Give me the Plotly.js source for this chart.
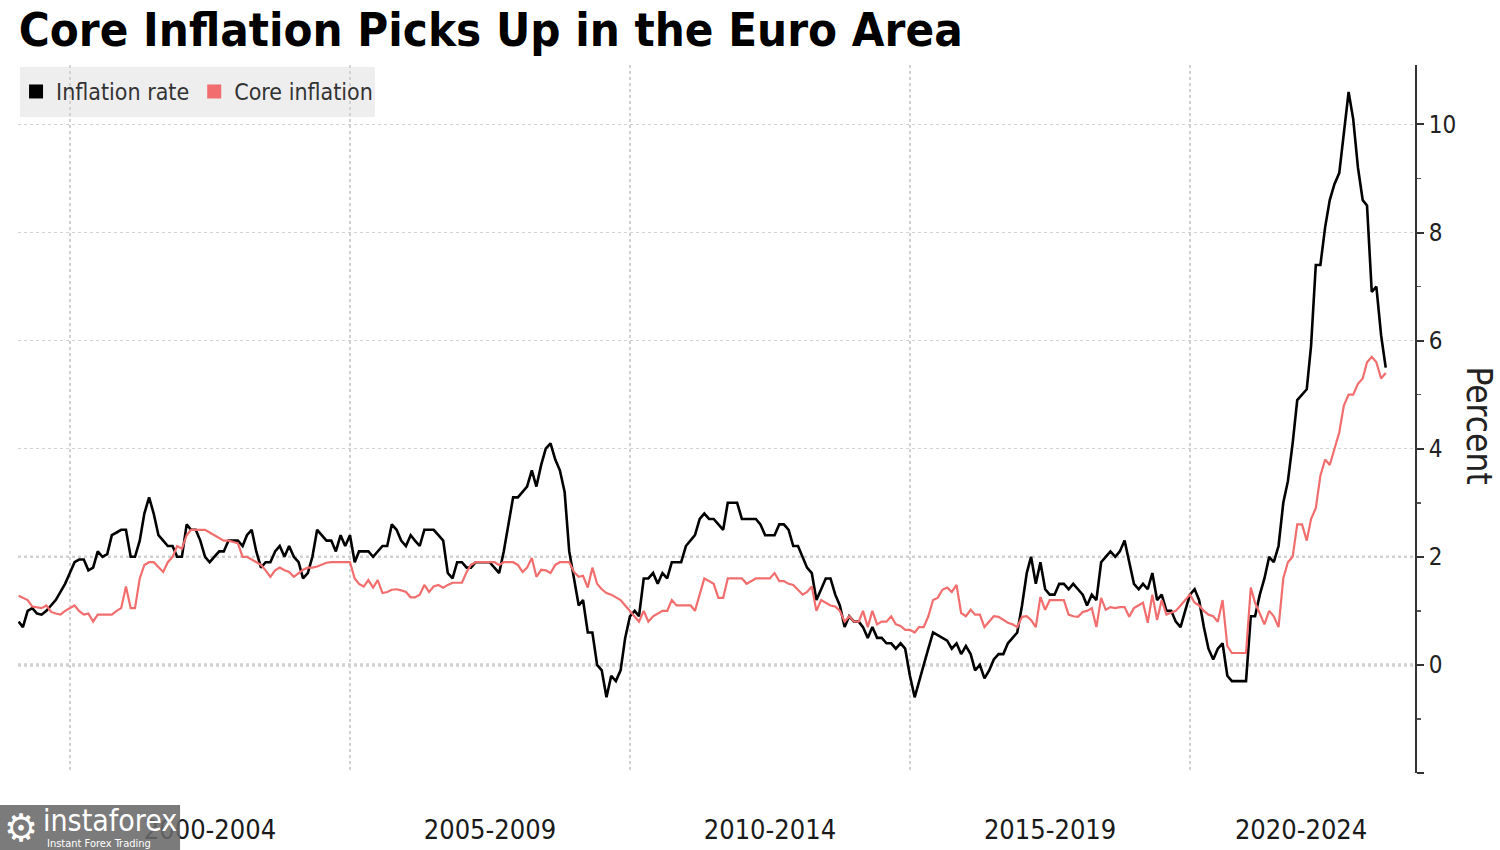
<!DOCTYPE html>
<html>
<head>
<meta charset="utf-8">
<script src="https://cdn.plot.ly/plotly-3.0.1.min.js"></script>
<style>
  html, body { margin: 0; padding: 0; background: #ffffff; }
  #chart { width: 1500px; height: 850px; }
</style>
</head>
<body>
<div id="chart"></div>
<script>
// ---------------- DATA ----------------
const startYear = 1999;          // first month: January 1999 (monthly, plotted at month end)
const seriesNames = ["Inflation rate", "Core inflation"];
const periodLabels = ["2000-2004", "2005-2009", "2010-2014", "2015-2019", "2020-2024"];
const periodLabelDates = ["2002-07-02", "2007-07-02", "2012-07-01", "2017-07-02", "2021-12-25"];
const yTickValues = [-2, 0, 2, 4, 6, 8, 10];
const yTickLabels = ["", "0", "2", "4", "6", "8", "10"];

// Headline inflation rate, % y/y, Jan 1999 .. Jun 2023
const inflationRate = [
  0.8, 0.7, 1.0, 1.05, 0.95, 0.93, 1.0, 1.1, 1.2, 1.35, 1.5, 1.7,      // 1999
  1.9, 1.95, 1.95, 1.75, 1.8, 2.1, 2.0, 2.05, 2.4, 2.45, 2.5, 2.5,     // 2000
  2.0, 2.0, 2.3, 2.8, 3.1, 2.8, 2.4, 2.3, 2.2, 2.2, 2.0, 2.0,          // 2001
  2.6, 2.5, 2.5, 2.3, 2.0, 1.9, 2.0, 2.1, 2.1, 2.3, 2.3, 2.3,          // 2002
  2.2, 2.4, 2.5, 2.1, 1.8, 1.9, 1.9, 2.1, 2.2, 2.0, 2.2, 2.0,          // 2003
  1.9, 1.6, 1.7, 2.0, 2.5, 2.4, 2.3, 2.3, 2.1, 2.4, 2.2, 2.4,          // 2004
  1.9, 2.1, 2.1, 2.1, 2.0, 2.1, 2.2, 2.2, 2.6, 2.5, 2.3, 2.2,          // 2005
  2.4, 2.3, 2.2, 2.5, 2.5, 2.5, 2.4, 2.3, 1.7, 1.6, 1.9, 1.9,          // 2006
  1.8, 1.8, 1.9, 1.9, 1.9, 1.9, 1.8, 1.7, 2.1, 2.6, 3.1, 3.1,          // 2007
  3.2, 3.3, 3.6, 3.3, 3.7, 4.0, 4.1, 3.8, 3.6, 3.2, 2.1, 1.6,          // 2008
  1.1, 1.2, 0.6, 0.6, 0.0, -0.1, -0.6, -0.2, -0.3, -0.1, 0.5, 0.9,     // 2009
  1.0, 0.9, 1.6, 1.6, 1.7, 1.5, 1.7, 1.6, 1.9, 1.9, 1.9, 2.2,          // 2010
  2.3, 2.4, 2.7, 2.8, 2.7, 2.7, 2.6, 2.5, 3.0, 3.0, 3.0, 2.7,          // 2011
  2.7, 2.7, 2.7, 2.6, 2.4, 2.4, 2.4, 2.6, 2.6, 2.5, 2.2, 2.2,          // 2012
  2.0, 1.8, 1.7, 1.2, 1.4, 1.6, 1.6, 1.3, 1.1, 0.7, 0.9, 0.8,          // 2013
  0.8, 0.7, 0.5, 0.7, 0.5, 0.5, 0.4, 0.4, 0.3, 0.4, 0.3, -0.2,         // 2014
  -0.6, -0.3, 0.0, 0.3, 0.6, 0.55, 0.5, 0.45, 0.3, 0.4, 0.2, 0.35,     // 2015
  0.2, -0.1, 0.0, -0.25, -0.1, 0.1, 0.2, 0.2, 0.4, 0.5, 0.6, 1.1,      // 2016
  1.7, 2.0, 1.5, 1.9, 1.4, 1.3, 1.3, 1.5, 1.5, 1.4, 1.5, 1.4,          // 2017
  1.3, 1.1, 1.3, 1.2, 1.9, 2.0, 2.1, 2.0, 2.1, 2.3, 1.9, 1.5,          // 2018
  1.4, 1.5, 1.4, 1.7, 1.2, 1.3, 1.0, 1.0, 0.8, 0.7, 1.0, 1.3,          // 2019
  1.4, 1.2, 0.7, 0.3, 0.1, 0.3, 0.4, -0.2, -0.3, -0.3, -0.3, -0.3,     // 2020
  0.9, 0.9, 1.3, 1.6, 2.0, 1.9, 2.2, 3.0, 3.4, 4.1, 4.9, 5.0,          // 2021
  5.1, 5.9, 7.4, 7.4, 8.1, 8.6, 8.9, 9.1, 9.9, 10.6, 10.1, 9.2,        // 2022
  8.6, 8.5, 6.9, 7.0, 6.1, 5.5                                         // 2023
];

// Core inflation, % y/y, Jan 1999 .. Jun 2023
const coreInflation = [
  1.28, 1.24, 1.2, 1.08, 1.06, 1.05, 1.1, 0.98, 0.95, 0.93, 1.0, 1.05,  // 1999
  1.1, 1.0, 0.93, 0.95, 0.8, 0.93, 0.93, 0.93, 0.93, 1.0, 1.05, 1.45,   // 2000
  1.05, 1.05, 1.6, 1.85, 1.9, 1.9, 1.8, 1.72, 1.9, 2.0, 2.2, 2.15,      // 2001
  2.4, 2.5, 2.5, 2.5, 2.5, 2.45, 2.4, 2.35, 2.3, 2.3, 2.28, 2.25,       // 2002
  2.0, 2.0, 1.95, 1.9, 1.85, 1.75, 1.63, 1.75, 1.8, 1.75, 1.72, 1.63,   // 2003
  1.7, 1.76, 1.8, 1.8, 1.82, 1.85, 1.89, 1.9, 1.9, 1.9, 1.9, 1.9,       // 2004
  1.6, 1.5, 1.45, 1.57, 1.43, 1.57, 1.33, 1.35, 1.39, 1.4, 1.38, 1.35,  // 2005
  1.25, 1.25, 1.3, 1.48, 1.35, 1.45, 1.48, 1.43, 1.48, 1.52, 1.52, 1.52,// 2006
  1.72, 1.85, 1.9, 1.9, 1.9, 1.9, 1.9, 1.85, 1.9, 1.9, 1.9, 1.85,       // 2007
  1.72, 1.8, 1.98, 1.63, 1.76, 1.75, 1.7, 1.85, 1.9, 1.9, 1.9, 1.72,    // 2008
  1.63, 1.65, 1.43, 1.8, 1.5, 1.4, 1.33, 1.3, 1.25, 1.2, 1.1, 1.0,      // 2009
  0.9, 0.8, 1.0, 0.8, 0.9, 0.95, 1.0, 1.0, 1.2, 1.1, 1.1, 1.1,          // 2010
  1.1, 1.0, 1.3, 1.6, 1.55, 1.5, 1.24, 1.24, 1.6, 1.6, 1.6, 1.6,        // 2011
  1.5, 1.55, 1.6, 1.6, 1.6, 1.6, 1.7, 1.55, 1.55, 1.5, 1.48, 1.39,      // 2012
  1.3, 1.35, 1.45, 1.0, 1.2, 1.15, 1.1, 1.08, 1.0, 0.8, 0.9, 0.8,       // 2013
  0.8, 1.0, 0.7, 1.0, 0.75, 0.8, 0.8, 0.9, 0.75, 0.72, 0.65, 0.65,      // 2014
  0.6, 0.7, 0.7, 0.9, 1.2, 1.24, 1.39, 1.43, 1.35, 1.48, 0.96, 0.9,     // 2015
  1.02, 0.93, 0.93, 0.7, 0.8, 0.9, 0.89, 0.83, 0.78, 0.75, 0.7, 0.89,   // 2016
  0.9, 0.83, 0.7, 1.26, 1.02, 1.2, 1.2, 1.2, 1.2, 0.93, 0.9, 0.89,      // 2017
  0.98, 1.0, 1.05, 0.7, 1.24, 1.02, 1.07, 1.05, 1.07, 1.07, 0.89, 1.05, // 2018
  1.1, 1.15, 0.78, 1.3, 0.83, 1.2, 0.93, 0.96, 1.0, 1.1, 1.2, 1.3,      // 2019
  1.15, 1.1, 1.0, 0.93, 0.9, 0.8, 1.2, 0.35, 0.22, 0.22, 0.22, 0.22,    // 2020
  1.43, 1.15, 0.95, 0.75, 1.0, 0.9, 0.7, 1.6, 1.9, 2.0, 2.6, 2.6,       // 2021
  2.3, 2.7, 2.9, 3.5, 3.8, 3.7, 4.0, 4.3, 4.8, 5.0, 5.0, 5.2,           // 2022
  5.3, 5.6, 5.7, 5.6, 5.3, 5.4                                          // 2023
];

// month-end dates for each observation
function monthEnd(i) {
  const y = startYear + Math.floor(i / 12);
  const m = (i % 12) + 1;
  const d = new Date(Date.UTC(y, m, 0));
  return d.toISOString().slice(0, 10);
}
const dates = inflationRate.map((_, i) => monthEnd(i));

// ---------------- STYLE ----------------
const BLACK = "#000000";
const RED = "#f26d6d";
const COND = "'DejaVu Sans Condensed', 'Liberation Sans Narrow', 'DejaVu Sans', sans-serif";

const traces = [
  { x: dates, y: inflationRate, type: "scatter", mode: "lines", name: seriesNames[0],
    line: { color: BLACK, width: 2.6 }, showlegend: false, hoverinfo: "skip" },
  { x: dates, y: coreInflation, type: "scatter", mode: "lines", name: seriesNames[1],
    line: { color: RED, width: 2.2 }, showlegend: false, hoverinfo: "skip" },
  // legend swatches
  { x: [null], y: [null], type: "scatter", mode: "markers", name: seriesNames[0],
    marker: { symbol: "square", size: 14, color: BLACK }, showlegend: true },
  { x: [null], y: [null], type: "scatter", mode: "markers", name: seriesNames[1],
    marker: { symbol: "square", size: 14, color: RED }, showlegend: true }
];

const layout = {
  width: 1500, height: 850,
  margin: { l: 18, r: 85, t: 65, b: 77 },
  paper_bgcolor: "#ffffff", plot_bgcolor: "#ffffff",
  title: {
    text: "Core Inflation Picks Up in the Euro Area",
    x: 0.0125, xanchor: "left", y: 0.985, yanchor: "top",
    font: { family: COND, size: 47, color: "#000000", weight: 700 }
  },
  showlegend: true,
  legend: {
    orientation: "h", x: -0.0014, xanchor: "left", y: 0.9929, yanchor: "top",
    bgcolor: "rgba(0,0,0,0)", borderwidth: 0,
    font: { family: COND, size: 23, color: "#333333" },
    itemwidth: 30, tracegroupgap: 0
  },
  xaxis: {
    type: "date",
    range: ["1999-01-27", "2024-01-07"],
    tickmode: "array", tickvals: periodLabelDates, ticktext: periodLabels,
    ticks: "outside", ticklen: 33, tickcolor: "rgba(0,0,0,0)",
    showgrid: false, zeroline: false, showline: false,
    tickfont: { family: COND, size: 27, color: "#1a1a1a" },
    minor: { tickmode: "linear", tick0: "2000-01-01", dtick: "M60", showgrid: true,
             gridcolor: "#d2d2d2", griddash: "dot", gridwidth: 1.5, ticks: "" },
    fixedrange: true
  },
  yaxis: {
    side: "right",
    range: [-2, 11.1],
    tickmode: "array", tickvals: yTickValues, ticktext: yTickLabels,
    ticks: "outside", ticklen: 7, tickwidth: 2, tickcolor: "#333333",
    showline: true, linecolor: "#333333", linewidth: 2,
    showgrid: true, gridcolor: "#d2d2d2", griddash: "dot", gridwidth: 1.5,
    zeroline: false,
    tickfont: { family: COND, size: 24, color: "#222222" },
    minor: { tickmode: "array", tickvals: [-1, 1, 3, 5, 7, 9], ticks: "outside",
             ticklen: 4, tickwidth: 1.5, tickcolor: "#555555", showgrid: false },
    fixedrange: true
  },
  shapes: [
    // legend box
    { type: "rect", xref: "paper", yref: "paper",
      x0: 0.00143, x1: 0.2555, y0: 0.92655, y1: 0.99718,
      fillcolor: "rgba(232,232,232,0.75)", line: { width: 0 }, layer: "below" },
    { type: "line", xref: "paper", yref: "y", x0: 0, x1: 1, y0: 2, y1: 2,
      line: { color: "#a9a9a9", width: 2, dash: "dot" }, layer: "below" },
    { type: "line", xref: "paper", yref: "y", x0: 0, x1: 1, y0: 0, y1: 0,
      line: { color: "#7a7a7a", width: 2.5, dash: "dot" }, layer: "below" },
    // watermark box
    { type: "rect", xref: "paper", yref: "paper",
      x0: -0.0129, x1: 0.116, y0: -0.1088, y1: -0.0452,
      fillcolor: "rgba(105,105,105,0.88)", line: { width: 0 }, layer: "above" }
  ],
  annotations: [
    { xref: "paper", yref: "paper", x: 1.0455, y: 0.4915, xanchor: "center", yanchor: "middle",
      text: "Percent", textangle: 90, showarrow: false,
      font: { family: COND, size: 35, color: "#222222" } },
    { xref: "paper", yref: "paper", x: 0.0165, y: -0.0665, xanchor: "left", yanchor: "middle",
      text: "instaforex", showarrow: false,
      font: { family: "'DejaVu Sans Condensed', 'DejaVu Sans', sans-serif", size: 30, color: "#ffffff" } },
    { xref: "paper", yref: "paper", x: 0.0195, y: -0.0995, xanchor: "left", yanchor: "middle",
      text: "Instant Forex Trading", showarrow: false,
      font: { family: "'DejaVu Sans Condensed', 'DejaVu Sans', sans-serif", size: 11, color: "#ffffff" } },
    { xref: "paper", yref: "paper", x: -0.0115, y: -0.0775, xanchor: "left", yanchor: "middle",
      text: "⚙", showarrow: false,
      font: { family: "'DejaVu Sans', sans-serif", size: 38, color: "#ffffff" } }
  ]
};

Plotly.newPlot("chart", traces, layout, { staticPlot: true, displayModeBar: false });
</script>
</body>
</html>
